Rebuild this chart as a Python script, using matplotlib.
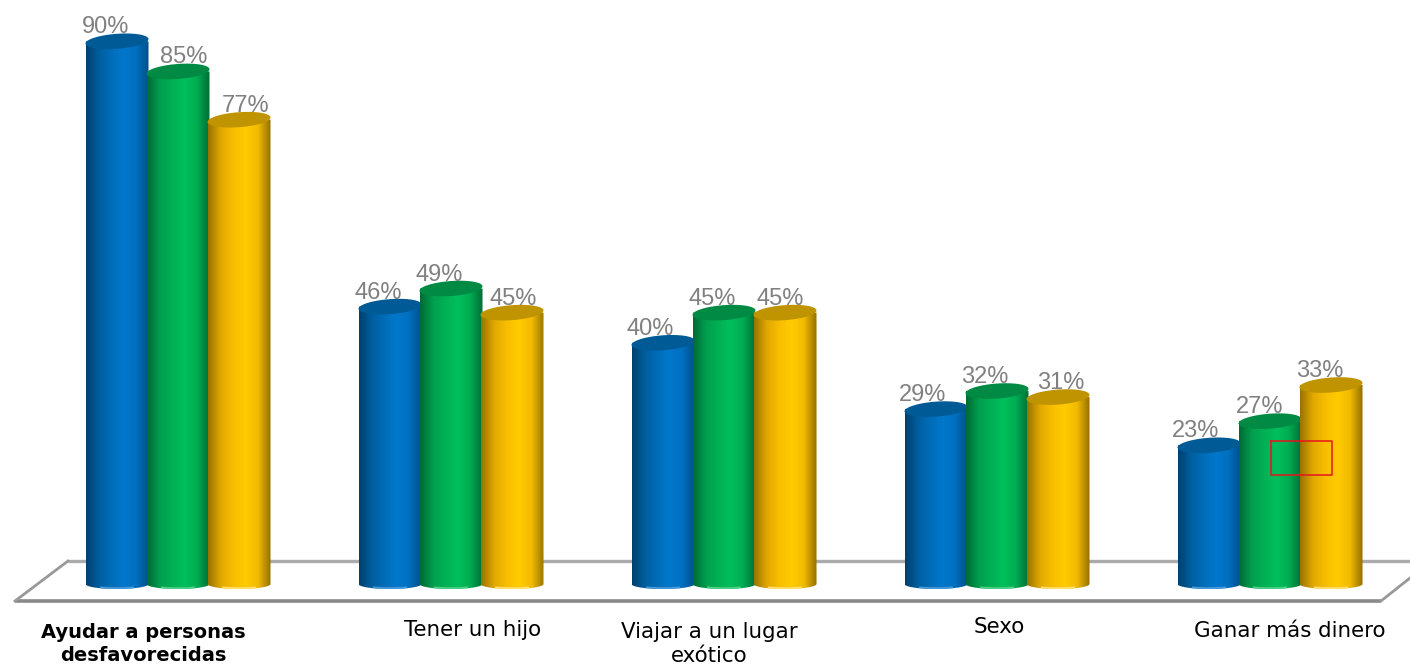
import numpy as np
import matplotlib
matplotlib.use("Agg")
import matplotlib.pyplot as plt
from matplotlib.colors import LinearSegmentedColormap
from matplotlib.patches import PathPatch
from matplotlib.path import Path

categories = ["Ayudar a personas\ndesfavorecidas", "Tener un hijo",
              "Viajar a un lugar\nexótico", "Sexo", "Ganar más dinero"]
series_a = [90, 46, 40, 29, 23]
series_b = [85, 49, 45, 32, 27]
series_c = [77, 45, 45, 31, 33]

# layout (pixels)
W, H = 1410, 667
GROUP_PX, BAR_STEP, HALF_W, FIRST_C = 273, 61, 31.5, 178
Y0_PX, PX_PER_UNIT = 584, 6.03
label_dx = [[-11, 6, 7], [-12, -12, 1], [-13, -12, -5], [-13, -12, 3], [-13, -10, -11]]
cat_xy = [(143, 644), (473, 630), (709, 644), (999, 627), (1290, 631)]
ramps = [
    (["#00406e", "#005f9f", "#006cb8", "#0078cc", "#0070c0", "#00508a"], "#005a96", "#4a9ad8"),
    (["#006b34", "#009e4e", "#00b055", "#00bf5c", "#00ac52", "#006e36"], "#008a44", "#4fcf88"),
    (["#9a7400", "#e0a800", "#f8be00", "#ffcb00", "#f2ba00", "#957100"], "#c09400", "#ffdf70"),
]

fig = plt.figure(figsize=(W / 100, H / 100), dpi=100)
ax = fig.add_axes([0, 0, 1, 1])
ax.axis("off")
xlim = (-FIRST_C / GROUP_PX, (W - FIRST_C) / GROUP_PX)
ylim = ((Y0_PX - H) / PX_PER_UNIT, Y0_PX / PX_PER_UNIT)

px = lambda v: (v - FIRST_C) / GROUP_PX
py = lambda v: (Y0_PX - v) / PX_PER_UNIT
dxu = lambda v: v / GROUP_PX
dyu = lambda v: v / PX_PER_UNIT

# floor
ax.plot([px(68), px(W)], [py(561)] * 2, color="#ababab", lw=2.4, zorder=1, solid_capstyle="butt")
ax.plot([px(15), px(1381)], [py(601)] * 2, color="#8a8a8a", lw=2.6, zorder=1, solid_capstyle="butt")
ax.plot([px(68), px(15)], [py(561), py(601)], color="#999999", lw=2, zorder=1)
ax.plot([px(1381), px(W)], [py(601), py(578)], color="#999999", lw=2, zorder=1)

t = np.linspace(0, 2 * np.pi, 80)
B_TOP, B_BOT, TILT = 7.5, 5.0, 0.07
z = 2
for g in range(len(categories)):
    for s, values in enumerate([series_a, series_b, series_c]):
        v = values[g]
        xc = g + dxu((s - 1) * BAR_STEP)
        a = dxu(HALF_W)
        stops, top, rim = ramps[s]
        cmap = LinearSegmentedColormap.from_list(f"c{s}", stops)
        ex = a * np.cos(t)
        ey = dyu(B_TOP) * np.sin(t) + dyu(HALF_W * TILT) * np.cos(t)
        # body outline: straight sides, elliptical bottom
        lower = (t >= np.pi)
        bx = xc + ex[lower]
        by = dyu(B_BOT) * np.sin(t[lower])
        verts = np.column_stack([
            np.r_[xc - a, bx, xc + a, xc - a],
            np.r_[v, by, v, v],
        ])
        clip = PathPatch(Path(verts), transform=ax.transData, fc="none", ec="none")
        ax.add_patch(clip)
        im = ax.imshow(np.linspace(0, 1, 64)[None, :], cmap=cmap, aspect="auto",
                       extent=(xc - a, xc + a, dyu(-10), v), zorder=z + 1,
                       interpolation="bilinear")
        im.set_clip_path(clip)
        # pale rim along the base
        rim_t = np.linspace(1.32 * np.pi, 1.68 * np.pi, 20)
        rx = xc + a * np.cos(rim_t)
        ry = dyu(B_BOT) * np.sin(rim_t)
        ax.fill(np.r_[rx, rx[::-1]], np.r_[ry, ry[::-1] + dyu(1.8)], color=rim, lw=0, zorder=z + 1.5)
        ax.fill(xc + ex, v + ey, color=top, lw=0, zorder=z + 2)
        ax.text(xc + dxu(label_dx[g][s]), v + dyu(8), f"{v}%",
                family="Liberation Sans", fontsize=17,
                color="#808080", ha="center", va="baseline", zorder=50)
        z += 3

# red rectangle
ax.plot([px(1270.5), px(1331.5), px(1331.5), px(1270.5), px(1270.5)],
        [py(440.5), py(440.5), py(475), py(475), py(440.5)],
        color="#e8141c", lw=1.1, zorder=60)

# category labels
for i, (name, (x, y)) in enumerate(zip(categories, cat_xy)):
    bold = i == 0
    ax.text(px(x), py(y), name, ha="center", va="center", family="DejaVu Sans",
            fontsize=14 if bold else 15.4, color="black",
            fontweight="bold" if bold else "normal",
            linespacing=1.33 if bold else 1.2, zorder=60)

ax.set_xlim(*xlim)
ax.set_ylim(*ylim)
fig.savefig("out.png", dpi=100, facecolor="white")
